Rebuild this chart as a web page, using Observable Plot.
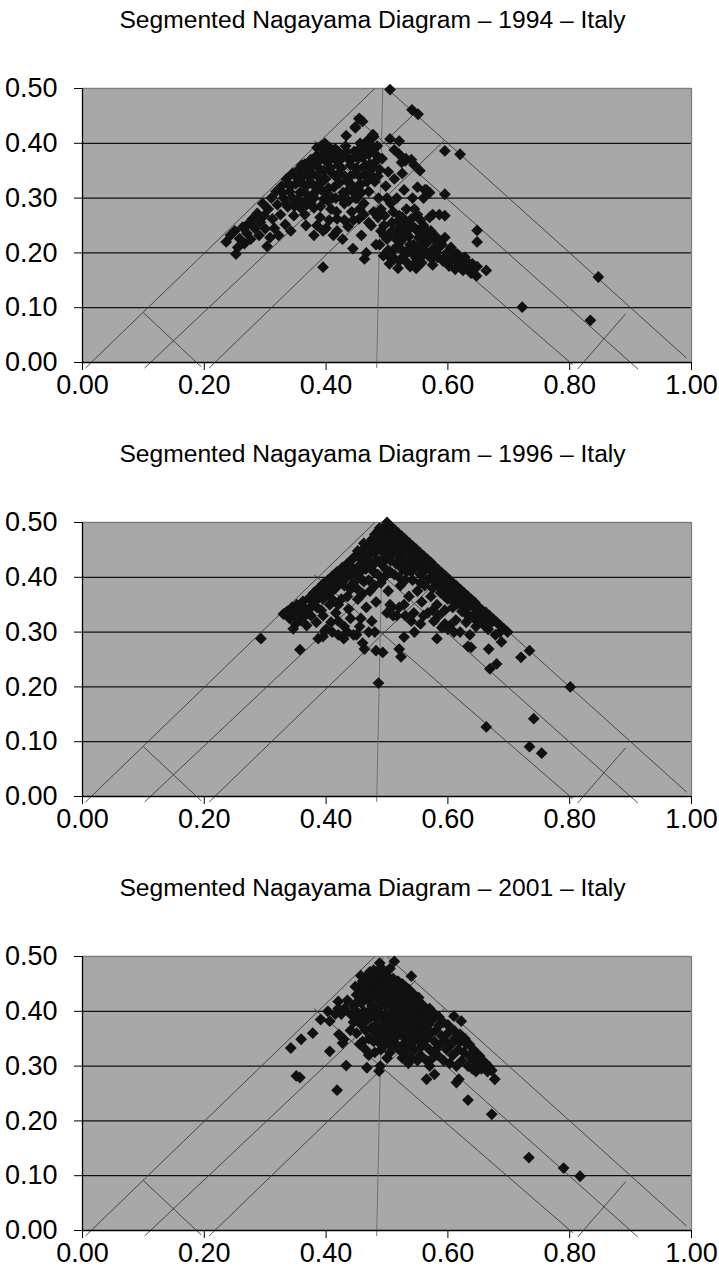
<!DOCTYPE html>
<html><head><meta charset="utf-8">
<script src="https://cdn.jsdelivr.net/npm/d3@7"></script>
<script src="https://cdn.jsdelivr.net/npm/@observablehq/plot@0.6"></script>
<style>
html,body{margin:0;padding:0;background:#fff;overflow:hidden;}
body{width:719px;height:1282px;font-family:"Liberation Sans",Arial,sans-serif;}
.title{height:44px;line-height:40px;text-align:center;font-size:23px;color:#000;box-sizing:border-box;padding-left:27px;white-space:nowrap;}
.title span{display:inline-block;transform:scaleX(1.07);}
svg{display:block;}
</style></head><body><div id="root"></div>
<script>
const xTicks = [0, 0.2, 0.4, 0.6, 0.8, 1.0];
const yTicks = [0, 0.1, 0.2, 0.3, 0.4, 0.5];
const gridY = [0.1, 0.2, 0.3, 0.4];

// Segmentation lines of the Nagayama diagram (data coordinates)
const segments = [
  {x1:0.005, y1:-0.010, x2:0.480, y2:0.500},
  {x1:0.102, y1:-0.010, x2:0.547, y2:0.456},
  {x1:0.208, y1:-0.010, x2:0.594, y2:0.405},
  {x1:0.500, y1:0.500, x2:0.992, y2:0.008},
  {x1:0.445, y1:0.451, x2:0.912, y2:-0.012},
  {x1:0.380, y1:0.405, x2:0.805, y2:-0.004},
  {x1:0.100, y1:0.091, x2:0.195, y2:-0.008},
  {x1:0.813, y1:-0.012, x2:0.892, y2:0.089}
];
const vertical = [{x1:0.483, y1:-0.010, x2:0.493, y2:0.500}];

const years = ["1994", "1996", "2001"];

const pts1994 = [
[0.505,0.498],[0.541,0.461],[0.551,0.453],[0.595,0.386],[0.620,0.380],[0.847,0.156],[0.722,0.101],[0.834,0.077],
[0.395,0.174],[0.663,0.168],[0.648,0.241],[0.648,0.220],[0.595,0.268],[0.595,0.307],[0.554,0.350],[0.505,0.408],
[0.520,0.404],[0.512,0.388],[0.531,0.372],[0.454,0.445],[0.448,0.430],[0.433,0.414],[0.477,0.416],[0.463,0.189],
[0.236,0.220],[0.243,0.232],[0.250,0.240],[0.252,0.198],[0.255,0.210],[0.258,0.226],[0.263,0.247],[0.266,0.217],
[0.270,0.236],[0.272,0.253],[0.276,0.225],[0.279,0.262],[0.283,0.245],[0.287,0.272],[0.290,0.232],[0.292,0.256],
[0.296,0.290],[0.298,0.268],[0.300,0.244],[0.303,0.212],[0.305,0.280],[0.308,0.228],[0.310,0.300],[0.312,0.262],
[0.315,0.245],[0.318,0.312],[0.320,0.288],[0.322,0.232],[0.325,0.270],[0.327,0.322],[0.330,0.300],[0.333,0.252],
[0.335,0.335],[0.337,0.284],[0.340,0.312],[0.342,0.240],[0.345,0.345],[0.347,0.268],[0.350,0.326],[0.352,0.296],
[0.355,0.352],[0.357,0.310],[0.360,0.280],[0.362,0.340],[0.365,0.362],[0.367,0.250],[0.370,0.325],[0.372,0.300],
[0.375,0.370],[0.377,0.345],[0.380,0.232],[0.380,0.282],[0.383,0.312],[0.385,0.378],[0.388,0.355],[0.390,0.265],
[0.392,0.395],[0.394,0.330],[0.396,0.298],[0.398,0.385],[0.400,0.245],[0.402,0.365],[0.404,0.318],[0.406,0.392],
[0.408,0.280],[0.410,0.345],[0.412,0.232],[0.414,0.372],[0.416,0.300],[0.418,0.262],[0.420,0.385],[0.422,0.328],
[0.425,0.355],[0.427,0.225],[0.430,0.290],[0.432,0.395],[0.434,0.312],[0.436,0.248],[0.438,0.370],[0.440,0.340],
[0.442,0.275],[0.444,0.208],[0.446,0.385],[0.448,0.300],[0.450,0.355],[0.452,0.322],[0.454,0.262],[0.456,0.400],
[0.458,0.232],[0.460,0.375],[0.462,0.290],[0.464,0.342],[0.466,0.200],[0.468,0.405],[0.470,0.312],[0.472,0.362],
[0.474,0.250],[0.476,0.388],[0.478,0.275],[0.480,0.330],[0.482,0.215],[0.484,0.395],[0.486,0.300],[0.488,0.352],
[0.490,0.240],[0.492,0.372],[0.494,0.195],[0.496,0.268],[0.498,0.322],[0.500,0.225],[0.502,0.348],[0.504,0.180],
[0.506,0.290],[0.508,0.255],[0.510,0.205],[0.512,0.335],[0.514,0.240],[0.516,0.300],[0.518,0.172],[0.520,0.268],
[0.522,0.220],[0.524,0.365],[0.526,0.190],[0.528,0.315],[0.530,0.250],[0.532,0.280],[0.534,0.205],[0.536,0.230],
[0.538,0.175],[0.540,0.262],[0.542,0.300],[0.544,0.215],[0.546,0.245],[0.548,0.190],[0.550,0.270],[0.552,0.228],
[0.555,0.205],[0.557,0.182],[0.560,0.250],[0.562,0.315],[0.565,0.218],[0.568,0.195],[0.570,0.265],[0.572,0.240],
[0.575,0.178],[0.578,0.210],[0.580,0.230],[0.583,0.192],[0.586,0.270],[0.590,0.215],[0.592,0.185],[0.595,0.228],
[0.598,0.200],[0.602,0.176],[0.605,0.210],[0.608,0.190],[0.612,0.170],[0.615,0.198],[0.620,0.182],[0.625,0.168],
[0.628,0.192],[0.633,0.178],[0.638,0.163],[0.642,0.172],[0.647,0.158],
[0.345,0.300],[0.355,0.330],[0.365,0.310],[0.368,0.345],[0.375,0.290],[0.378,0.325],[0.386,0.340],[0.390,0.370],
[0.396,0.350],[0.400,0.310],[0.405,0.380],[0.410,0.300],[0.415,0.340],[0.420,0.360],[0.425,0.300],[0.428,0.375],
[0.435,0.330],[0.440,0.360],[0.445,0.310],[0.450,0.385],[0.455,0.340],[0.460,0.395],[0.465,0.360],[0.470,0.380],
[0.475,0.340],[0.480,0.365],[0.458,0.310],[0.415,0.390],[0.398,0.400],[0.385,0.392],[0.372,0.355],[0.360,0.360],
[0.350,0.345],[0.338,0.325],[0.328,0.310],[0.365,0.270],[0.385,0.250],[0.395,0.240],[0.405,0.260],[0.418,0.240],
[0.430,0.260],[0.380,0.300],[0.392,0.315],
[0.490,0.280],[0.495,0.250],[0.500,0.300],[0.505,0.235],[0.510,0.275],[0.515,0.225],[0.520,0.245],[0.525,0.265],
[0.530,0.230],[0.535,0.255],[0.540,0.200],[0.545,0.280],[0.550,0.240],[0.555,0.260],[0.560,0.220],[0.565,0.240],
[0.512,0.190],[0.525,0.205],[0.545,0.180],[0.558,0.195],[0.575,0.205],[0.585,0.210],[0.600,0.190],[0.610,0.200],
[0.618,0.195],[0.630,0.185],[0.640,0.180],[0.648,0.175],
[0.520,0.380],[0.530,0.368],[0.525,0.345],[0.540,0.370],[0.545,0.360],[0.550,0.320],[0.560,0.300],[0.570,0.310],
[0.575,0.270],[0.565,0.315],[0.455,0.445],[0.460,0.440],[0.448,0.428],[0.478,0.412],[0.470,0.402],
[0.335,0.290],[0.342,0.322],[0.348,0.285],[0.352,0.338],[0.358,0.295],[0.363,0.325],[0.368,0.288],[0.373,0.338],
[0.378,0.305],[0.382,0.362],[0.387,0.325],[0.391,0.285],[0.395,0.375],[0.399,0.335],[0.403,0.295],[0.407,0.355],
[0.411,0.385],[0.413,0.320],[0.417,0.275],[0.421,0.345],[0.424,0.372],[0.428,0.310],[0.431,0.340],[0.434,0.385],
[0.437,0.295],[0.441,0.325],[0.443,0.372],[0.447,0.345],[0.451,0.300],[0.453,0.372],[0.457,0.325],[0.461,0.355],
[0.463,0.385],[0.467,0.330],[0.471,0.345],[0.473,0.390],[0.477,0.355],[0.481,0.380],[0.485,0.340],[0.462,0.270],
[0.445,0.260],[0.470,0.255],[0.485,0.265],[0.455,0.280],
[0.488,0.215],[0.495,0.232],[0.502,0.205],[0.508,0.240],[0.515,0.210],[0.518,0.258],[0.523,0.232],[0.528,0.195],
[0.533,0.240],[0.538,0.215],[0.542,0.248],[0.548,0.205],[0.553,0.215],[0.557,0.238],[0.562,0.205],[0.567,0.228],
[0.573,0.190],[0.578,0.225],[0.582,0.200],[0.588,0.220],[0.595,0.192],[0.603,0.198],[0.613,0.185],[0.622,0.172],
[0.535,0.180],[0.520,0.185],[0.505,0.192],[0.548,0.172]
];

const pts1996 = [
[0.486,0.207],[0.293,0.288],[0.357,0.268],[0.801,0.200],[0.663,0.127],[0.741,0.142],[0.734,0.091],[0.754,0.079],
[0.734,0.266],[0.720,0.254],[0.680,0.242],[0.669,0.233],[0.667,0.269],[0.688,0.282],[0.582,0.288],[0.528,0.291],
[0.523,0.255],[0.520,0.269],[0.482,0.266],[0.493,0.263],[0.633,0.274],[0.638,0.272],[0.429,0.288],[0.387,0.288],
[0.346,0.306],[0.463,0.269],
[0.500,0.500],[0.506,0.493],[0.512,0.487],[0.518,0.481],[0.524,0.475],[0.530,0.469],[0.536,0.463],[0.542,0.457],
[0.548,0.451],[0.554,0.445],[0.560,0.439],[0.566,0.433],[0.572,0.427],[0.578,0.420],[0.584,0.414],[0.590,0.408],
[0.596,0.402],[0.602,0.396],[0.608,0.390],[0.614,0.384],[0.620,0.378],[0.626,0.372],[0.632,0.366],[0.638,0.360],
[0.644,0.354],[0.650,0.346],[0.656,0.340],[0.662,0.336],[0.668,0.330],[0.674,0.324],[0.680,0.318],[0.686,0.312],
[0.692,0.306],[0.698,0.300],
[0.330,0.333],[0.336,0.338],[0.340,0.325],[0.344,0.345],[0.348,0.332],[0.350,0.315],[0.352,0.350],[0.356,0.338],
[0.358,0.322],[0.362,0.356],[0.366,0.342],[0.368,0.312],[0.372,0.362],[0.375,0.330],[0.378,0.350],[0.380,0.372],
[0.384,0.318],[0.386,0.360],[0.388,0.380],[0.392,0.340],[0.395,0.388],[0.398,0.302],[0.400,0.368],[0.403,0.395],
[0.406,0.350],[0.408,0.318],[0.410,0.402],[0.413,0.378],[0.416,0.335],[0.418,0.410],[0.420,0.295],[0.422,0.388],
[0.425,0.360],[0.427,0.418],[0.430,0.310],[0.432,0.398],[0.435,0.425],[0.437,0.342],[0.440,0.378],[0.442,0.432],
[0.445,0.295],[0.447,0.410],[0.450,0.440],[0.452,0.360],[0.455,0.422],[0.457,0.325],[0.459,0.448],[0.462,0.392],
[0.464,0.455],[0.466,0.345],[0.468,0.432],[0.470,0.462],[0.472,0.375],[0.474,0.445],[0.476,0.470],[0.478,0.410],
[0.480,0.478],[0.482,0.355],[0.484,0.455],[0.486,0.485],[0.488,0.430],[0.490,0.390],[0.492,0.470],[0.494,0.445],
[0.496,0.492],[0.498,0.415],[0.500,0.460],[0.502,0.375],[0.504,0.480],[0.506,0.430],[0.508,0.345],[0.510,0.465],
[0.512,0.405],[0.514,0.450],[0.516,0.330],[0.518,0.470],[0.520,0.425],[0.522,0.385],[0.524,0.455],[0.526,0.440],
[0.528,0.350],[0.530,0.462],[0.532,0.410],[0.534,0.445],[0.536,0.365],[0.538,0.430],[0.540,0.452],[0.542,0.395],
[0.544,0.335],[0.546,0.440],[0.548,0.420],[0.550,0.375],[0.552,0.432],[0.555,0.405],[0.557,0.355],[0.560,0.425],
[0.562,0.385],[0.565,0.415],[0.567,0.335],[0.570,0.398],[0.572,0.365],[0.575,0.410],[0.577,0.320],[0.580,0.390],
[0.582,0.350],[0.585,0.400],[0.588,0.372],[0.590,0.308],[0.592,0.390],[0.595,0.340],[0.598,0.380],[0.600,0.360],
[0.603,0.312],[0.605,0.385],[0.608,0.345],[0.610,0.368],[0.613,0.322],[0.616,0.352],[0.618,0.372],[0.620,0.300],
[0.623,0.338],[0.626,0.358],[0.630,0.318],[0.633,0.345],[0.636,0.295],[0.640,0.330],[0.643,0.348],[0.646,0.310],
[0.650,0.325],[0.654,0.338],[0.658,0.315],[0.662,0.322],[0.666,0.305],[0.672,0.318],[0.678,0.295],[0.685,0.300],
[0.470,0.440],[0.475,0.455],[0.480,0.445],[0.485,0.465],[0.490,0.475],[0.495,0.455],[0.500,0.480],[0.505,0.465],
[0.510,0.445],[0.515,0.460],[0.520,0.450],[0.490,0.425],[0.485,0.405],[0.495,0.430],[0.505,0.410],[0.515,0.425],
[0.525,0.415],[0.535,0.425],[0.545,0.420],[0.530,0.395],[0.540,0.410],[0.475,0.420],[0.465,0.415],[0.460,0.430],
[0.455,0.400],[0.445,0.390],[0.440,0.405],[0.430,0.385],[0.425,0.400],[0.415,0.380],[0.405,0.375],[0.395,0.360],
[0.385,0.345],[0.375,0.345],[0.365,0.330],[0.395,0.330],[0.410,0.360],[0.420,0.350],[0.435,0.365],[0.450,0.380],
[0.460,0.370],[0.470,0.395],[0.480,0.385],[0.495,0.400],[0.520,0.400],[0.555,0.390],[0.565,0.395],[0.575,0.380],
[0.585,0.385],[0.595,0.365],[0.610,0.355],[0.500,0.440],[0.505,0.490],[0.495,0.470],[0.482,0.470],
[0.395,0.292],[0.400,0.305],[0.410,0.300],[0.420,0.320],[0.435,0.300],[0.440,0.325],[0.450,0.295],[0.455,0.310],
[0.460,0.280],[0.470,0.300],[0.475,0.320],[0.480,0.300],[0.500,0.335],[0.505,0.350],[0.510,0.330],[0.520,0.345],
[0.530,0.330],[0.540,0.320],[0.545,0.300],[0.555,0.315],[0.560,0.330],[0.575,0.340],[0.585,0.330],[0.595,0.315],
[0.600,0.305],[0.610,0.300],
[0.440,0.420],[0.445,0.435],[0.452,0.448],[0.458,0.412],[0.462,0.462],[0.467,0.448],[0.472,0.428],[0.478,0.460],
[0.483,0.432],[0.488,0.460],[0.493,0.485],[0.498,0.445],[0.503,0.470],[0.508,0.455],[0.512,0.475],[0.517,0.440],
[0.522,0.465],[0.527,0.430],[0.533,0.455],[0.538,0.445],[0.543,0.435],[0.548,0.440],[0.553,0.420],[0.558,0.410],
[0.563,0.430],[0.568,0.420],[0.573,0.400],[0.578,0.410],[0.583,0.395],[0.588,0.400],[0.593,0.375],[0.598,0.395],
[0.603,0.370],[0.608,0.380],[0.613,0.360],[0.618,0.360],[0.623,0.350],[0.628,0.365],[0.633,0.330],[0.638,0.350],
[0.643,0.325],[0.648,0.338],[0.655,0.328],[0.660,0.312],[0.405,0.390],[0.412,0.395],[0.420,0.405],[0.428,0.410],
[0.434,0.412],[0.380,0.360],[0.370,0.340],[0.360,0.345],[0.390,0.370],[0.400,0.380],[0.488,0.490]
];

const pts2001 = [
[0.342,0.333],[0.351,0.282],[0.357,0.279],[0.359,0.349],[0.378,0.360],[0.406,0.327],[0.418,0.256],[0.433,0.301],
[0.467,0.297],[0.487,0.291],[0.489,0.300],[0.565,0.276],[0.578,0.285],[0.633,0.238],[0.672,0.212],[0.677,0.276],
[0.733,0.133],[0.790,0.114],[0.817,0.099],[0.512,0.491],[0.488,0.488],[0.540,0.464],[0.610,0.391],[0.622,0.382],
[0.652,0.318],[0.618,0.276],[0.614,0.270],[0.421,0.358],[0.429,0.349],[0.427,0.342],[0.406,0.382],[0.391,0.385],
[0.403,0.400],[0.420,0.418],
[0.450,0.430],[0.455,0.445],[0.458,0.415],[0.460,0.455],[0.462,0.400],[0.465,0.435],[0.467,0.465],[0.470,0.420],
[0.472,0.445],[0.474,0.390],[0.476,0.470],[0.478,0.430],[0.480,0.455],[0.482,0.405],[0.484,0.440],[0.486,0.475],
[0.488,0.420],[0.490,0.460],[0.492,0.385],[0.494,0.445],[0.496,0.470],[0.498,0.410],[0.500,0.435],[0.502,0.455],
[0.504,0.395],[0.506,0.425],[0.508,0.450],[0.510,0.375],[0.512,0.440],[0.514,0.410],[0.516,0.430],[0.518,0.360],
[0.520,0.420],[0.522,0.395],[0.524,0.435],[0.526,0.380],[0.528,0.410],[0.530,0.350],[0.532,0.425],[0.534,0.395],
[0.536,0.370],[0.538,0.410],[0.540,0.385],[0.542,0.425],[0.544,0.345],[0.546,0.400],[0.548,0.375],[0.550,0.410],
[0.552,0.360],[0.554,0.390],[0.556,0.335],[0.558,0.400],[0.560,0.370],[0.562,0.385],[0.565,0.350],[0.568,0.375],
[0.570,0.330],[0.572,0.360],[0.575,0.385],[0.578,0.345],[0.580,0.365],[0.583,0.320],[0.586,0.375],[0.588,0.340],
[0.590,0.355],[0.593,0.310],[0.596,0.345],[0.598,0.330],[0.600,0.360],[0.603,0.305],[0.606,0.340],[0.608,0.320],
[0.611,0.350],[0.614,0.300],[0.617,0.330],[0.620,0.345],[0.623,0.310],[0.626,0.325],[0.630,0.340],[0.633,0.300],
[0.636,0.318],[0.640,0.295],[0.643,0.310],[0.646,0.290],[0.650,0.305],[0.655,0.295],[0.660,0.298],[0.665,0.290],
[0.455,0.420],[0.460,0.440],[0.465,0.450],[0.470,0.460],[0.475,0.450],[0.480,0.440],[0.485,0.455],[0.490,0.440],
[0.495,0.455],[0.500,0.445],[0.505,0.440],[0.510,0.430],[0.515,0.445],[0.520,0.440],[0.525,0.420],[0.530,0.400],
[0.535,0.415],[0.540,0.400],[0.545,0.385],[0.550,0.395],[0.555,0.375],[0.560,0.395],[0.470,0.400],[0.475,0.410],
[0.480,0.390],[0.485,0.400],[0.490,0.410],[0.495,0.390],[0.500,0.380],[0.505,0.370],[0.510,0.400],[0.515,0.390],
[0.520,0.375],[0.525,0.360],[0.535,0.360],[0.545,0.365],[0.460,0.380],[0.465,0.365],[0.470,0.350],[0.475,0.370],
[0.480,0.360],[0.485,0.345],[0.490,0.365],[0.495,0.350],[0.500,0.360],[0.505,0.345],[0.510,0.355],[0.515,0.340],
[0.520,0.330],[0.525,0.315],[0.530,0.325],[0.535,0.305],[0.540,0.315],[0.545,0.330],[0.550,0.310],[0.555,0.320],
[0.560,0.340],[0.565,0.310],[0.570,0.300],[0.575,0.315],[0.580,0.330],[0.500,0.315],[0.505,0.325],[0.490,0.330],
[0.480,0.325],[0.470,0.320],[0.460,0.345],[0.450,0.400],[0.445,0.410],[0.440,0.395],[0.435,0.420],[0.430,0.405],
[0.425,0.395],[0.420,0.405],[0.415,0.395],[0.445,0.380],[0.440,0.365],[0.450,0.360],[0.455,0.340],[0.465,0.330],
[0.482,0.470],[0.478,0.475],[0.500,0.465],[0.510,0.460],[0.518,0.455],[0.525,0.450],[0.530,0.445],[0.536,0.440],
[0.545,0.430],[0.552,0.425],[0.560,0.410],[0.570,0.405],[0.578,0.395],[0.585,0.390],[0.592,0.380],[0.600,0.375],
[0.610,0.365],[0.620,0.358],[0.628,0.350],[0.635,0.340],[0.642,0.330],[0.650,0.320],[0.655,0.312],[0.662,0.305],
[0.668,0.298],[0.672,0.292],
[0.448,0.445],[0.452,0.418],[0.457,0.432],[0.462,0.448],[0.466,0.425],[0.468,0.455],[0.473,0.435],[0.477,0.462],
[0.481,0.425],[0.483,0.465],[0.487,0.435],[0.491,0.450],[0.493,0.425],[0.497,0.440],[0.501,0.420],[0.503,0.460],
[0.507,0.410],[0.511,0.450],[0.513,0.420],[0.517,0.435],[0.521,0.405],[0.523,0.448],[0.527,0.395],[0.531,0.435],
[0.533,0.405],[0.537,0.425],[0.541,0.395],[0.543,0.415],[0.547,0.390],[0.551,0.420],[0.553,0.380],[0.557,0.405],
[0.561,0.380],[0.563,0.400],[0.567,0.365],[0.571,0.390],[0.476,0.395],[0.482,0.375],[0.488,0.395],[0.493,0.370],
[0.498,0.395],[0.503,0.385],[0.508,0.365],[0.513,0.375],[0.518,0.395],[0.523,0.375],[0.528,0.365],[0.533,0.385],
[0.538,0.350],[0.543,0.375],[0.548,0.355],[0.553,0.345],[0.558,0.355],[0.468,0.385],[0.463,0.395],[0.458,0.375],
[0.453,0.385],[0.448,0.392],[0.478,0.345],[0.487,0.355],[0.497,0.340],[0.507,0.335],[0.517,0.355],[0.527,0.340],
[0.537,0.335],[0.457,0.465],[0.472,0.472],[0.492,0.478],[0.505,0.478]
];

const panels = [pts1994, pts1996, pts2001];

// Excel-style diamond (square rotated 45 degrees)
const diamond = {
  draw(context, size) {
    const h = Math.sqrt(size / 2);
    context.moveTo(0, -h);
    context.lineTo(h, 0);
    context.lineTo(0, h);
    context.lineTo(-h, 0);
    context.closePath();
  }
};

const root = document.getElementById("root");
const fmt = d3.format(".2f");

panels.forEach((pts, i) => {
  const t = document.createElement("div");
  t.className = "title";
  const s = document.createElement("span");
  s.textContent = "Segmented Nagayama Diagram \u2013 " + years[i] + " \u2013 Italy";
  t.appendChild(s);
  root.appendChild(t);

  const last = i === panels.length - 1;
  const h = last ? 370 : 390;
  const chart = Plot.plot({
    width: 719,
    height: h,
    marginTop: 44,
    marginBottom: h - 44 - 274,
    marginLeft: 82,
    marginRight: 28,
    x: {domain: [0, 1]},
    y: {domain: [0, 0.5]},
    style: {fontFamily: "'Liberation Sans', Arial, sans-serif", fontSize: "27px", color: "#000", background: "#fff", overflow: "visible"},
    marks: [
      Plot.frame({fill: "#a8a8a8", stroke: null}),
      Plot.ruleY(gridY, {stroke: "#111", strokeWidth: 1.3}),
      Plot.ruleY([0.5], {stroke: "#808080", strokeWidth: 1.3}),
      Plot.ruleX([1], {y1: 0, y2: 0.5, stroke: "#808080", strokeWidth: 1.3}),
      Plot.link(segments, {x1: "x1", y1: "y1", x2: "x2", y2: "y2", stroke: "#3c3c3c", strokeWidth: 0.9}),
      Plot.link(vertical, {x1: "x1", y1: "y1", x2: "x2", y2: "y2", stroke: "#6a6a6a", strokeWidth: 0.9}),
      Plot.dot(pts, {x: d => d[0], y: d => d[1], symbol: diamond, r: 4.7, fill: "#111", stroke: null}),
      Plot.ruleX([0], {y1: 0, y2: 0.5, stroke: "#000", strokeWidth: 1.3}),
      Plot.ruleY([0], {x1: 0, x2: 1, stroke: "#000", strokeWidth: 1.3}),
      Plot.axisX({ticks: xTicks, tickFormat: fmt, tickSize: 8, tickPadding: 4, label: null, stroke: "#000"}),
      Plot.axisY({ticks: yTicks, tickFormat: fmt, tickSize: 8, tickPadding: 17, label: null, stroke: "#000"})
    ]
  });
  root.appendChild(chart);
});
</script>
</body></html>
